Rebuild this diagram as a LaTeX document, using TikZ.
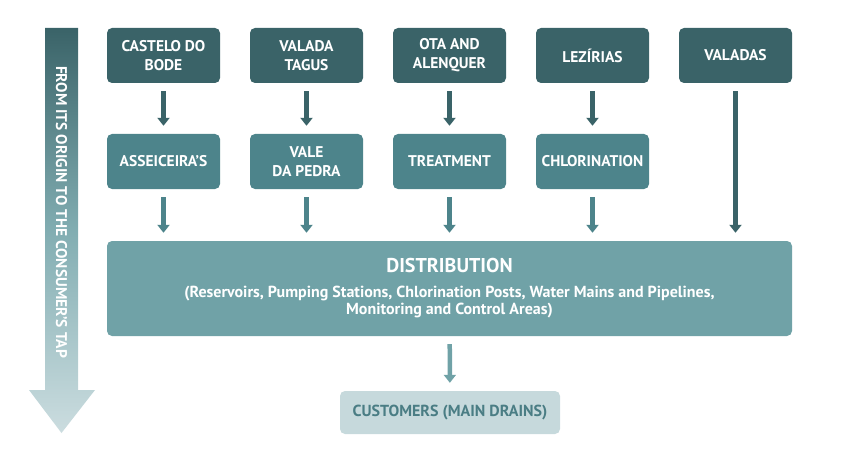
\documentclass[tikz,border=0pt]{standalone}
\usepackage{fontspec}
\setmainfont{PT Sans}
\usetikzlibrary{arrows.meta}
\definecolor{darkteal}{HTML}{3A6368}
\definecolor{midteal}{HTML}{4D848B}
\definecolor{lightteal}{HTML}{70A2A7}
\definecolor{paleteal}{HTML}{C6D9DC}
\definecolor{custtext}{HTML}{4A7D84}
\begin{document}
\begin{tikzpicture}[x=1pt,y=-1pt,
  box/.style={rectangle,rounded corners=5pt,minimum width=113pt,minimum height=55pt,inner sep=0pt,align=center,text=white,font=\fontsize{15.5}{19}\selectfont\bfseries},
  source/.style={box,fill=darkteal},
  plant/.style={box,fill=midteal},
  flow/.style={-{Triangle[width=12pt,length=8pt]},line width=4.5pt,shorten <=8pt,shorten >=8pt}]
\useasboundingbox (0,0) rectangle (845,457);

% direction arrow on the left
\shade[top color=darkteal,bottom color=paleteal!90!white,middle color=lightteal!80!paleteal]
  (45,28) -- (78,28) -- (78,390) -- (95,390) -- (61.5,433) -- (29,390) -- (45,390) -- cycle;
\node[rotate=-90,text=white,font=\fontsize{15.5}{18}\selectfont\bfseries] (t) at (61.5,212) {FROM ITS ORIGIN TO THE CONSUMER'S TAP};

\node[source] (0) at (163.5,55.5) {CASTELO DO\\BODE};
\node[source] (1) at (306.5,55.5) {VALADA\\TAGUS};
\node[source] (2) at (449.5,55.5) {OTA AND\\ALENQUER};
\node[source] (3) at (592.5,55.5) {LEZÍRIAS};
\node[source] (4) at (735.5,55.5) {VALADAS};

\node[plant] (5) at (163.5,161.5) {ASSEICEIRA’S};
\node[plant] (6) at (306.5,161.5) {VALE\\DA PEDRA};
\node[plant] (7) at (449.5,161.5) {TREATMENT};
\node[plant] (8) at (592.5,161.5) {CHLORINATION};

\node[box,fill=lightteal,minimum width=685pt,minimum height=95pt,font=\fontsize{16}{17}\selectfont\bfseries] (10) at (449.5,288.5)
  {{\fontsize{20}{22}\selectfont DISTRIBUTION}\\[8pt]
   (Reservoirs, Pumping Stations, Chlorination Posts, Water Mains and Pipelines,\\
   Monitoring and Control Areas)};
\node[box,fill=paleteal,text=custtext,minimum width=220pt,minimum height=43pt,font=\fontsize{16}{19}\selectfont\bfseries] (11) at (450,412.5) {CUSTOMERS (MAIN DRAINS)};

\draw[flow,darkteal] (0)--(5);
\draw[flow,darkteal] (1)--(6);
\draw[flow,darkteal] (2)--(7);
\draw[flow,darkteal] (3)--(8);
\draw[flow,darkteal] (4.south)--(4.south|-10.north);
\draw[flow,midteal] (5.south)--(5.south|-10.north);
\draw[flow,midteal] (6.south)--(6.south|-10.north);
\draw[flow,midteal] (7.south)--(7.south|-10.north);
\draw[flow,midteal] (8.south)--(8.south|-10.north);
\draw[flow,lightteal] (10)--(11);
\end{tikzpicture}
\end{document}
